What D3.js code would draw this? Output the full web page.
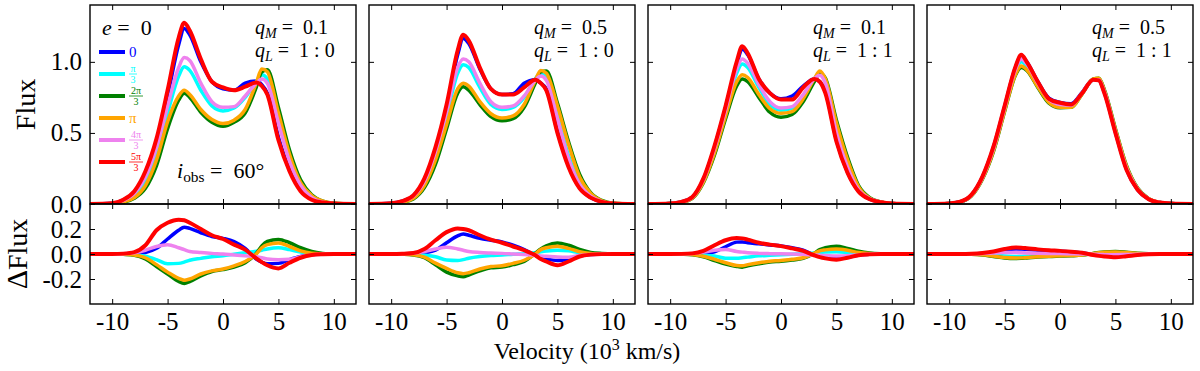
<!DOCTYPE html>
<html>
<head>
<meta charset="utf-8">
<script src="https://cdn.jsdelivr.net/npm/d3@7"></script>
<style>
  body { margin: 0; background: #fff; }
  svg text { font-family: "Liberation Serif", "DejaVu Serif", serif; fill: #000; }
</style>
</head>
<body>
<svg id="fig" width="1200" height="371"></svg>
<script>
// velocity grid (10^3 km/s)
const velocity = [-12, -10, -9, -8, -7, -6, -5, -4, -3.5, -3, -2, -1, 0, 1, 2, 3, 3.5, 4, 5, 6, 7, 8, 9, 10, 12];

// phases, in drawing order: 0, pi/3, 2pi/3, pi, 4pi/3, 5pi/3
const phaseNum = ["0", "π", "2π", "π", "4π", "5π"];
const phaseDen = ["", "3", "3", "", "3", "3"];
const phaseColors = ["#0000ff", "#00ffff", "#008000", "#ffa500", "#ee82ee", "#ff0000"];

const xTicks = [-10, -5, 0, 5, 10];
const xTickLabels = ["-10", "-5", "0", "5", "10"];
const fluxTicks = [0, 0.5, 1.0];
const fluxTickLabels = ["0.0", "0.5", "1.0"];
const dfluxTicks = [-0.2, 0, 0.2];
const dfluxTickLabels = ["-0.2", "0.0", "0.2"];

const panelQM = ["0.1", "0.5", "0.1", "0.5"];
const panelQL = ["1 : 0", "1 : 0", "1 : 1", "1 : 1"];

// top row: flux, one row per phase
const flux_qM01_qL10 = [
  [0, 0.005, 0.028, 0.085, 0.21, 0.43, 0.76, 1.12, 1.235, 1.19, 1.00, 0.86, 0.81, 0.80, 0.85, 0.865, 0.84, 0.78, 0.47, 0.24, 0.10, 0.035, 0.01, 0.003, 0],
  [0, 0.004, 0.02, 0.065, 0.17, 0.37, 0.64, 0.90, 0.965, 0.94, 0.80, 0.69, 0.655, 0.675, 0.75, 0.86, 0.91, 0.88, 0.60, 0.32, 0.14, 0.05, 0.014, 0.003, 0],
  [0, 0.002, 0.012, 0.04, 0.11, 0.27, 0.53, 0.73, 0.78, 0.75, 0.645, 0.575, 0.547, 0.575, 0.64, 0.82, 0.93, 0.945, 0.68, 0.38, 0.17, 0.065, 0.02, 0.005, 0],
  [0, 0.003, 0.015, 0.045, 0.13, 0.31, 0.58, 0.76, 0.80, 0.77, 0.665, 0.594, 0.566, 0.59, 0.665, 0.85, 0.95, 0.93, 0.64, 0.35, 0.15, 0.06, 0.02, 0.005, 0],
  [0, 0.004, 0.025, 0.075, 0.19, 0.40, 0.69, 0.96, 1.03, 1.01, 0.85, 0.72, 0.68, 0.685, 0.76, 0.85, 0.88, 0.85, 0.57, 0.30, 0.13, 0.045, 0.012, 0.003, 0],
  [0, 0.005, 0.03, 0.09, 0.23, 0.46, 0.80, 1.17, 1.275, 1.22, 1.02, 0.86, 0.82, 0.80, 0.825, 0.855, 0.83, 0.77, 0.45, 0.23, 0.09, 0.03, 0.01, 0.003, 0]
];
const flux_qM05_qL10 = [
  [0, 0.005, 0.02, 0.058, 0.17, 0.385, 0.68, 1.05, 1.165, 1.13, 0.95, 0.81, 0.77, 0.775, 0.85, 0.875, 0.85, 0.81, 0.51, 0.27, 0.115, 0.045, 0.015, 0.004, 0],
  [0, 0.004, 0.017, 0.05, 0.15, 0.35, 0.62, 0.92, 0.98, 0.96, 0.82, 0.70, 0.665, 0.68, 0.75, 0.88, 0.92, 0.89, 0.62, 0.34, 0.15, 0.06, 0.018, 0.004, 0],
  [0, 0.002, 0.011, 0.035, 0.115, 0.28, 0.53, 0.78, 0.825, 0.80, 0.70, 0.615, 0.585, 0.60, 0.68, 0.85, 0.93, 0.935, 0.71, 0.44, 0.21, 0.08, 0.025, 0.005, 0],
  [0, 0.003, 0.013, 0.04, 0.13, 0.31, 0.56, 0.81, 0.85, 0.83, 0.72, 0.635, 0.605, 0.62, 0.70, 0.87, 0.94, 0.92, 0.69, 0.42, 0.19, 0.075, 0.022, 0.005, 0],
  [0, 0.004, 0.018, 0.055, 0.16, 0.37, 0.65, 0.96, 1.02, 1.0, 0.85, 0.72, 0.68, 0.69, 0.76, 0.87, 0.90, 0.87, 0.60, 0.32, 0.14, 0.055, 0.017, 0.004, 0],
  [0, 0.005, 0.02, 0.06, 0.18, 0.40, 0.70, 1.08, 1.19, 1.15, 0.96, 0.81, 0.77, 0.77, 0.82, 0.875, 0.85, 0.80, 0.50, 0.26, 0.11, 0.045, 0.015, 0.004, 0]
];
const flux_qM01_qL11 = [
  [0, 0.004, 0.015, 0.049, 0.175, 0.40, 0.68, 0.98, 1.09, 1.05, 0.88, 0.78, 0.74, 0.76, 0.83, 0.88, 0.86, 0.79, 0.45, 0.225, 0.09, 0.034, 0.012, 0.003, 0],
  [0, 0.004, 0.014, 0.046, 0.165, 0.38, 0.645, 0.92, 0.985, 0.96, 0.82, 0.70, 0.66, 0.675, 0.76, 0.88, 0.915, 0.86, 0.52, 0.27, 0.105, 0.038, 0.013, 0.003, 0],
  [0, 0.003, 0.011, 0.04, 0.15, 0.345, 0.60, 0.83, 0.88, 0.86, 0.75, 0.645, 0.61, 0.63, 0.72, 0.86, 0.92, 0.885, 0.59, 0.33, 0.13, 0.045, 0.015, 0.003, 0],
  [0, 0.003, 0.012, 0.042, 0.155, 0.36, 0.62, 0.86, 0.91, 0.89, 0.77, 0.67, 0.638, 0.65, 0.74, 0.88, 0.935, 0.88, 0.57, 0.31, 0.12, 0.04, 0.014, 0.003, 0],
  [0, 0.004, 0.014, 0.047, 0.17, 0.39, 0.66, 0.95, 1.02, 0.99, 0.84, 0.72, 0.675, 0.685, 0.77, 0.88, 0.905, 0.85, 0.50, 0.26, 0.10, 0.037, 0.013, 0.003, 0],
  [0, 0.004, 0.015, 0.05, 0.18, 0.41, 0.69, 1.0, 1.11, 1.06, 0.88, 0.78, 0.735, 0.735, 0.82, 0.88, 0.86, 0.78, 0.44, 0.22, 0.087, 0.033, 0.012, 0.003, 0]
];
const flux_qM05_qL11 = [
  [0, 0.004, 0.016, 0.063, 0.19, 0.40, 0.685, 0.965, 1.045, 1.0, 0.86, 0.745, 0.715, 0.705, 0.785, 0.875, 0.87, 0.785, 0.505, 0.245, 0.10, 0.034, 0.01, 0.003, 0],
  [0, 0.004, 0.015, 0.06, 0.183, 0.385, 0.67, 0.94, 1.0, 0.97, 0.84, 0.73, 0.695, 0.69, 0.78, 0.875, 0.88, 0.795, 0.515, 0.255, 0.107, 0.036, 0.011, 0.003, 0],
  [0, 0.003, 0.014, 0.056, 0.175, 0.37, 0.65, 0.91, 0.96, 0.94, 0.82, 0.71, 0.678, 0.68, 0.775, 0.88, 0.885, 0.805, 0.53, 0.27, 0.112, 0.038, 0.011, 0.003, 0],
  [0, 0.003, 0.014, 0.057, 0.178, 0.375, 0.655, 0.915, 0.97, 0.945, 0.825, 0.715, 0.68, 0.68, 0.775, 0.88, 0.885, 0.80, 0.525, 0.265, 0.11, 0.037, 0.011, 0.003, 0],
  [0, 0.004, 0.015, 0.061, 0.185, 0.39, 0.675, 0.95, 1.02, 0.985, 0.85, 0.735, 0.70, 0.695, 0.78, 0.875, 0.875, 0.79, 0.51, 0.25, 0.105, 0.035, 0.01, 0.003, 0],
  [0, 0.004, 0.016, 0.064, 0.193, 0.405, 0.69, 0.97, 1.05, 1.0, 0.86, 0.74, 0.712, 0.70, 0.78, 0.875, 0.87, 0.78, 0.50, 0.24, 0.10, 0.033, 0.01, 0.003, 0]
];

// bottom row: flux difference
const dflux_qM01_qL10 = [
  [0, 0, 0, 0.002, 0.012, 0.045, 0.12, 0.19, 0.215, 0.205, 0.17, 0.14, 0.125, 0.10, 0.045, -0.04, -0.065, -0.078, -0.075, -0.045, -0.02, -0.005, 0, 0, 0],
  [0, 0, -0.001, -0.005, -0.018, -0.045, -0.078, -0.075, -0.065, -0.05, -0.035, -0.022, -0.015, -0.002, 0.01, 0.022, 0.03, 0.04, 0.05, 0.035, 0.015, 0.005, 0, 0, 0],
  [0, 0, -0.003, -0.01, -0.04, -0.10, -0.16, -0.22, -0.235, -0.22, -0.175, -0.14, -0.125, -0.105, -0.07, 0.005, 0.065, 0.10, 0.117, 0.09, 0.05, 0.02, 0.005, 0, 0],
  [0, 0, -0.002, -0.008, -0.03, -0.085, -0.145, -0.195, -0.21, -0.20, -0.16, -0.135, -0.12, -0.095, -0.06, 0.0, 0.05, 0.075, 0.088, 0.06, 0.025, 0.007, 0.002, 0, 0],
  [0, 0, 0.002, 0.01, 0.03, 0.06, 0.075, 0.05, 0.035, 0.02, 0.012, 0.005, 0, -0.008, -0.015, -0.022, -0.03, -0.04, -0.045, -0.042, -0.022, -0.008, -0.002, 0, 0],
  [0, 0, 0.003, 0.015, 0.07, 0.19, 0.25, 0.275, 0.27, 0.25, 0.20, 0.15, 0.12, 0.075, 0.035, -0.035, -0.065, -0.09, -0.115, -0.07, -0.03, -0.008, -0.002, 0, 0]
];
const dflux_qM05_qL10 = [
  [0, 0, 0, 0.002, 0.01, 0.03, 0.09, 0.145, 0.16, 0.15, 0.125, 0.11, 0.097, 0.07, 0.035, -0.01, -0.03, -0.04, -0.052, -0.04, -0.015, -0.004, 0, 0, 0],
  [0, 0, -0.001, -0.004, -0.01, -0.022, -0.048, -0.052, -0.045, -0.034, -0.02, -0.012, -0.008, -0.002, 0.003, 0.01, 0.017, 0.023, 0.03, 0.025, 0.01, 0.003, 0, 0, 0],
  [0, 0, -0.002, -0.008, -0.03, -0.086, -0.145, -0.175, -0.182, -0.168, -0.135, -0.11, -0.105, -0.085, -0.06, 0.005, 0.04, 0.065, 0.088, 0.07, 0.037, 0.013, 0.004, 0, 0],
  [0, 0, -0.002, -0.006, -0.025, -0.073, -0.115, -0.15, -0.157, -0.15, -0.12, -0.10, -0.094, -0.075, -0.05, 0.0, 0.035, 0.05, 0.063, 0.045, 0.018, 0.005, 0.001, 0, 0],
  [0, 0, 0.001, 0.005, 0.02, 0.04, 0.055, 0.04, 0.03, 0.02, 0.012, 0.008, 0.005, 0, -0.005, -0.01, -0.015, -0.018, -0.024, -0.026, -0.012, -0.004, -0.001, 0, 0],
  [0, 0, 0.002, 0.008, 0.04, 0.11, 0.175, 0.205, 0.20, 0.19, 0.15, 0.115, 0.09, 0.06, 0.03, -0.01, -0.04, -0.06, -0.09, -0.06, -0.02, -0.005, -0.001, 0, 0]
];
const dflux_qM01_qL11 = [
  [0, 0, 0, 0.001, 0.005, 0.018, 0.058, 0.095, 0.097, 0.09, 0.082, 0.072, 0.065, 0.05, 0.03, -0.008, -0.02, -0.027, -0.034, -0.025, -0.01, -0.002, 0, 0, 0],
  [0, 0, -0.001, -0.003, -0.008, -0.016, -0.034, -0.034, -0.03, -0.025, -0.015, -0.01, -0.006, -0.002, 0.002, 0.008, 0.012, 0.015, 0.018, 0.013, 0.006, 0.002, 0, 0, 0],
  [0, 0, -0.002, -0.006, -0.022, -0.052, -0.08, -0.10, -0.105, -0.095, -0.078, -0.064, -0.058, -0.048, -0.035, 0.005, 0.035, 0.05, 0.062, 0.045, 0.022, 0.008, 0.002, 0, 0],
  [0, 0, -0.001, -0.005, -0.018, -0.042, -0.07, -0.092, -0.094, -0.085, -0.07, -0.058, -0.052, -0.042, -0.03, 0.005, 0.025, 0.033, 0.04, 0.03, 0.012, 0.004, 0.001, 0, 0],
  [0, 0, 0.001, 0.004, 0.015, 0.03, 0.037, 0.02, 0.015, 0.01, 0.005, 0.003, 0.002, 0, -0.003, -0.008, -0.01, -0.012, -0.016, -0.014, -0.007, -0.002, 0, 0, 0],
  [0, 0, 0.001, 0.005, 0.025, 0.07, 0.11, 0.128, 0.125, 0.115, 0.09, 0.075, 0.063, 0.045, 0.025, -0.01, -0.025, -0.035, -0.045, -0.03, -0.01, -0.003, 0, 0, 0]
];
const dflux_qM05_qL11 = [
  [0, 0, 0, 0.001, 0.005, 0.012, 0.03, 0.04, 0.04, 0.037, 0.03, 0.025, 0.022, 0.016, 0.008, -0.005, -0.01, -0.013, -0.016, -0.01, -0.004, -0.001, 0, 0, 0],
  [0, 0, 0, -0.001, -0.003, -0.008, -0.016, -0.02, -0.02, -0.018, -0.013, -0.01, -0.008, -0.005, -0.002, 0.003, 0.005, 0.006, 0.008, 0.005, 0.002, 0, 0, 0, 0],
  [0, 0, 0, -0.002, -0.008, -0.02, -0.032, -0.036, -0.035, -0.032, -0.025, -0.02, -0.017, -0.014, -0.009, 0.005, 0.012, 0.017, 0.02, 0.015, 0.007, 0.002, 0, 0, 0],
  [0, 0, 0, -0.002, -0.007, -0.017, -0.028, -0.032, -0.031, -0.028, -0.022, -0.018, -0.015, -0.012, -0.008, 0.004, 0.01, 0.014, 0.016, 0.012, 0.005, 0.001, 0, 0, 0],
  [0, 0, 0, 0.001, 0.004, 0.008, 0.012, 0.012, 0.01, 0.008, 0.006, 0.004, 0.003, 0.002, 0, -0.002, -0.004, -0.005, -0.006, -0.004, -0.002, 0, 0, 0, 0],
  [0, 0, 0, 0.002, 0.008, 0.02, 0.04, 0.052, 0.05, 0.046, 0.037, 0.03, 0.025, 0.018, 0.01, -0.008, -0.015, -0.02, -0.026, -0.018, -0.008, -0.002, 0, 0, 0]
];

const fluxSets = [flux_qM01_qL10, flux_qM05_qL10, flux_qM01_qL11, flux_qM05_qL11];
const dfluxSets = [dflux_qM01_qL10, dflux_qM05_qL10, dflux_qM01_qL11, dflux_qM05_qL11];

// layout
const marginLeft = 90, marginTop = 5;
const panelW = 266, gap = 13;
const topH = 199, botH = 100;
const tickLen = 5;
const tickFont = 25;
const serif = '"Liberation Serif", "DejaVu Serif", serif';

const svg = d3.select("#fig");

const x = d3.scaleLinear().domain([-12, 12]).range([0, panelW]);
const yTop = d3.scaleLinear().domain([0, 1.4]).range([topH, 0]);
const yBot = d3.scaleLinear().domain([-0.4, 0.4]).range([botH, 0]);

function styleAxis(g) {
  g.attr("font-size", tickFont).attr("font-family", serif);
  g.select(".domain").remove();
  g.selectAll(".tick line").attr("stroke", "#000").attr("stroke-width", 1);
  g.selectAll(".tick text")
    .style("font-size", tickFont + "px")
    .style("font-family", serif);
}

function drawBox(g, y, h, yTicks, yLabels, series, showY, showX, id) {
  g.append("clipPath").attr("id", id)
    .append("rect").attr("width", panelW).attr("height", h);

  const line = d3.line()
    .x((d, j) => x(velocity[j]))
    .y(d => y(d))
    .curve(d3.curveMonotoneX);

  const lines = g.append("g").attr("clip-path", `url(#${id})`);
  series.forEach((vals, k) => {
    lines.append("path")
      .datum(vals)
      .attr("d", line)
      .attr("fill", "none")
      .attr("stroke", phaseColors[k])
      .attr("stroke-width", k === 5 ? 4 : 3.5)
      .attr("stroke-linejoin", "round");
  });

  // ticks on all four sides, pointing inward
  g.append("g")
    .attr("transform", `translate(0,${h})`)
    .call(d3.axisBottom(x).tickValues(xTicks).tickSizeInner(-tickLen).tickSizeOuter(0)
      .tickPadding(8).tickFormat((d, i) => showX ? xTickLabels[i] : ""))
    .call(styleAxis);
  g.append("g")
    .call(d3.axisTop(x).tickValues(xTicks).tickSizeInner(-tickLen).tickSizeOuter(0).tickFormat(""))
    .call(styleAxis);
  g.append("g")
    .call(d3.axisLeft(y).tickValues(yTicks).tickSizeInner(-tickLen).tickSizeOuter(0)
      .tickPadding(8).tickFormat((d, i) => showY ? yLabels[i] : ""))
    .call(styleAxis);
  g.append("g")
    .attr("transform", `translate(${panelW},0)`)
    .call(d3.axisRight(y).tickValues(yTicks).tickSizeInner(-tickLen).tickSizeOuter(0).tickFormat(""))
    .call(styleAxis);

  g.append("rect")
    .attr("width", panelW).attr("height", h)
    .attr("fill", "none").attr("stroke", "#000").attr("stroke-width", 1.4);
}

// math-ish text: italic symbol, optional subscript, then " = value" with wide spaces
function mathLabel(parent, xPos, yPos, size, sym, sub, subItalic, rest) {
  const t = parent.append("text").attr("x", xPos).attr("y", yPos).attr("font-size", size);
  t.append("tspan").attr("font-style", "italic").text(sym);
  if (sub) {
    t.append("tspan").attr("font-style", subItalic ? "italic" : "normal")
      .attr("font-size", size * 0.7).attr("dy", size * 0.2).text(sub);
  }
  t.append("tspan").attr("dy", sub ? -size * 0.2 : 0).attr("dx", size * 0.25).text("=");
  t.append("tspan").attr("dx", size * 0.25).text(" " + rest);
  return t;
}

fluxSets.forEach((set, i) => {
  const px = marginLeft + i * (panelW + gap);
  const gt = svg.append("g").attr("transform", `translate(${px},${marginTop})`);
  drawBox(gt, yTop, topH, fluxTicks, fluxTickLabels, set, i === 0, false, "clipT" + i);

  const gb = svg.append("g").attr("transform", `translate(${px},${marginTop + topH})`);
  drawBox(gb, yBot, botH, dfluxTicks, dfluxTickLabels, dfluxSets[i], i === 0, true, "clipB" + i);

  // q_M / q_L annotation
  mathLabel(gt, panelW - 101, 29, 20, "q", "M", true, panelQM[i]);
  mathLabel(gt, panelW - 101, 52, 20, "q", "L", true, panelQL[i]);
});

// legend and labels in the first panel
const g0 = svg.append("g").attr("transform", `translate(${marginLeft},${marginTop})`);
mathLabel(g0, 12, 30, 22, "e", "", false, "0");

phaseColors.forEach((c, k) => {
  const yy = 47 + k * 22;
  g0.append("line")
    .attr("x1", 9).attr("x2", 35).attr("y1", yy).attr("y2", yy)
    .attr("stroke", c).attr("stroke-width", 4);
  if (phaseDen[k] === "") {
    g0.append("text").attr("x", 39).attr("y", yy + 5).attr("font-size", 15)
      .style("fill", c).text(phaseNum[k]);
  } else {
    const cx = 39 + (phaseNum[k].length > 1 ? 7 : 4);
    g0.append("text").attr("x", cx).attr("y", yy - 2).attr("font-size", 10)
      .attr("text-anchor", "middle").style("fill", c).text(phaseNum[k]);
    g0.append("line")
      .attr("x1", 39).attr("x2", cx * 2 - 39).attr("y1", yy).attr("y2", yy)
      .attr("stroke", c).attr("stroke-width", 0.8);
    g0.append("text").attr("x", cx).attr("y", yy + 9).attr("font-size", 10)
      .attr("text-anchor", "middle").style("fill", c).text(phaseDen[k]);
  }
});

mathLabel(g0, 87, 173, 22, "i", "obs", false, "60°");

// axis titles
svg.append("text")
  .attr("transform", `translate(35,${marginTop + topH / 2}) rotate(-90)`)
  .attr("text-anchor", "middle").attr("font-size", 28).text("Flux");
const dl = svg.append("text")
  .attr("transform", `translate(27,${marginTop + topH + botH / 2}) rotate(-90)`)
  .attr("text-anchor", "middle").attr("font-size", 28);
dl.append("tspan").attr("font-size", 30).text("Δ");
dl.append("tspan").text("Flux");

const vel = svg.append("text").attr("x", 587).attr("y", 359)
  .attr("text-anchor", "middle").attr("font-size", 24);
vel.append("tspan").text("Velocity (10");
vel.append("tspan").attr("font-size", 16).attr("dy", -9).text("3");
vel.append("tspan").attr("dy", 9).text(" km/s)");
</script>
</body>
</html>
